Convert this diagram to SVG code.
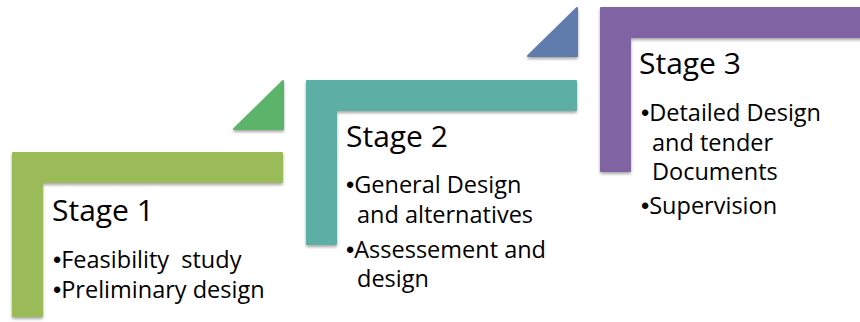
<svg xmlns="http://www.w3.org/2000/svg" width="860" height="322" viewBox="0 0 860 322">
<style>
.t{font-family:"Open Sans","Noto Sans",sans-serif;fill:#000}
.h{font-size:30px}
.b{font-size:23.5px;white-space:pre}
.d{font-family:"Liberation Sans",Arial,sans-serif}
</style>
<defs>
<filter id="sh" x="-10%" y="-10%" width="130%" height="130%">
<feDropShadow dx="0" dy="2" stdDeviation="1.5" flood-color="#000" flood-opacity="0.35"/>
</filter>
</defs>
<rect width="860" height="322" fill="#fff"/>
<g id="connectors">
<path d="M283,81 V129 H234 Z" fill="#5BB46A" stroke="#5BB46A" stroke-width="2" stroke-linejoin="round" filter="url(#sh)"/>
<path d="M577,8 V56 H528 Z" fill="#5F7CAD" stroke="#5F7CAD" stroke-width="2" stroke-linejoin="round" filter="url(#sh)"/>
</g>
<g id="stage1">
<path d="M13,153 H282 V182 H42 V316 H13 Z" fill="#9BBB59" stroke="#9BBB59" stroke-width="2" stroke-linejoin="round" filter="url(#sh)"/>
<text class="t h" x="52" y="221">Stage 1</text>
<text class="t b" x="53" y="268"><tspan class="d">•</tspan>Feasibility  study</text>
<text class="t b" x="53" y="298"><tspan class="d">•</tspan>Preliminary design</text>
</g>
<g id="stage2">
<path d="M307,81 H576 V110 H336 V244 H307 Z" fill="#5DAFA6" stroke="#5DAFA6" stroke-width="2" stroke-linejoin="round" filter="url(#sh)"/>
<text class="t h" x="346" y="147">Stage 2</text>
<text class="t b" x="346" y="193"><tspan class="d">•</tspan>General Design</text>
<text class="t b" x="357" y="223">and alternatives</text>
<text class="t b" x="346" y="258"><tspan class="d">•</tspan>Assessement and</text>
<text class="t b" x="357" y="287">design</text>
</g>
<g id="stage3">
<path d="M601,8 H870 V37 H630 V171 H601 Z" fill="#8064A2" stroke="#8064A2" stroke-width="2" stroke-linejoin="round" filter="url(#sh)"/>
<text class="t h" x="639" y="74">Stage 3</text>
<text class="t b" x="641" y="121"><tspan class="d">•</tspan>Detailed Design</text>
<text class="t b" x="652" y="151">and tender</text>
<text class="t b" x="652" y="180">Documents</text>
<text class="t b" x="641" y="214"><tspan class="d">•</tspan>Supervision</text>
</g>
</svg>
